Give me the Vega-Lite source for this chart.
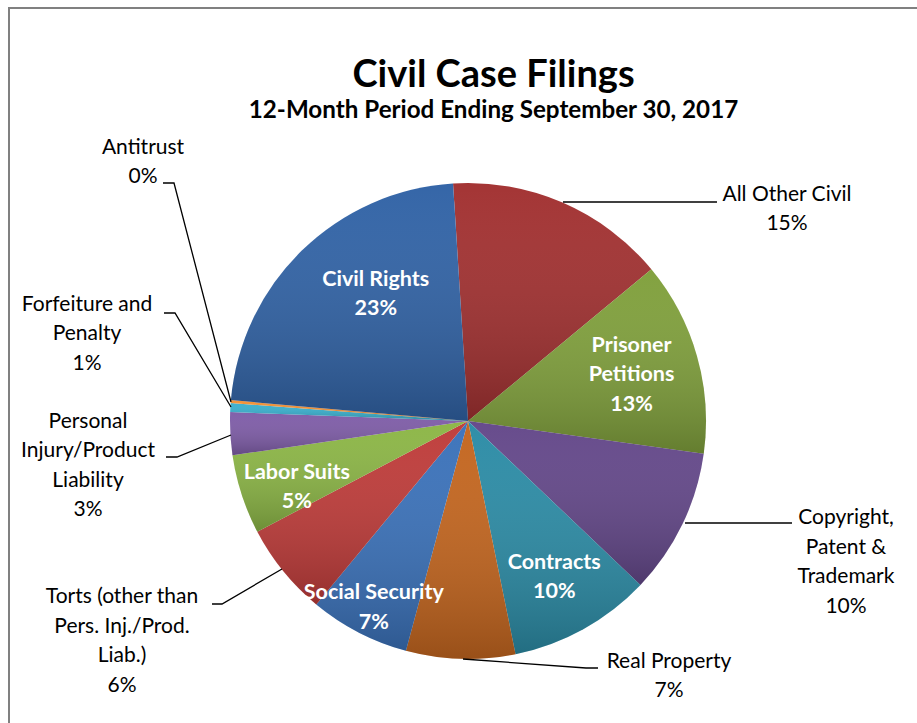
{
  "$schema": "https://vega.github.io/schema/vega-lite/v6.json",
  "width": 917,
  "height": 723,
  "autosize": "none",
  "padding": {"left": 9, "top": 8, "right": 0, "bottom": 0},
  "background": "white",
  "title": {
    "text": "Civil Case Filings",
    "subtitle": "12-Month Period Ending September 30, 2017",
    "anchor": "middle",
    "frame": "group",
    "orient": "top",
    "offset": -115,
    "dx": 26,
    "font": "Lato",
    "fontSize": 38,
    "fontWeight": "bold",
    "color": "#000000",
    "subtitleFont": "Lato",
    "subtitleFontSize": 24.2,
    "subtitleFontWeight": "bold",
    "subtitleColor": "#000000",
    "subtitlePadding": 4
  },
  "config": {
    "view": {"stroke": "#808080", "strokeWidth": 2},
    "font": "Lato"
  },
  "datasets": {
    "slices": [
      {"order": 1, "category": "All Other Civil", "share": 15.0, "inLabel": ""},
      {"order": 2, "category": "Prisoner Petitions", "share": 13.2, "inLabel": "Prisoner\nPetitions\n13%"},
      {"order": 3, "category": "Copyright, Patent & Trademark", "share": 9.9, "inLabel": ""},
      {"order": 4, "category": "Contracts", "share": 9.7, "inLabel": "Contracts\n10%"},
      {"order": 5, "category": "Real Property", "share": 7.4, "inLabel": ""},
      {"order": 6, "category": "Social Security", "share": 6.8, "inLabel": "Social Security\n7%"},
      {"order": 7, "category": "Torts (other than Pers. Inj./Prod. Liab.)", "share": 6.3, "inLabel": ""},
      {"order": 8, "category": "Labor Suits", "share": 5.4, "inLabel": "Labor Suits\n5%"},
      {"order": 9, "category": "Personal Injury/Product Liability", "share": 2.9, "inLabel": ""},
      {"order": 10, "category": "Forfeiture and Penalty", "share": 0.6, "inLabel": ""},
      {"order": 11, "category": "Antitrust", "share": 0.2, "inLabel": ""},
      {"order": 12, "category": "Civil Rights", "share": 22.6, "inLabel": "Civil Rights\n23%"}
    ],
    "callouts": [
      {"category": "Antitrust", "label": "Antitrust\n0%", "u": -1.3655, "v": 1.1471},
      {"category": "Forfeiture and Penalty", "label": "Forfeiture and\nPenalty\n1%", "u": -1.6008, "v": 0.4874},
      {"category": "Personal Injury/Product Liability", "label": "Personal\nInjury/Product\nLiability\n3%", "u": -1.5966, "v": -0.0042},
      {"category": "Torts (other than Pers. Inj./Prod. Liab.)", "label": "Torts (other than\nPers. Inj./Prod.\nLiab.)\n6%", "u": -1.4538, "v": -0.7395},
      {"category": "Real Property", "label": "Real Property\n7%", "u": 0.8445, "v": -1.0126},
      {"category": "Copyright, Patent & Trademark", "label": "Copyright,\nPatent &\nTrademark\n10%", "u": 1.5882, "v": -0.4076},
      {"category": "All Other Civil", "label": "All Other Civil\n15%", "u": 1.3403, "v": 0.9496}
    ],
    "leaders": [
      {"category": "Antitrust", "seq": 1, "u": -1.2815, "v": 1.0},
      {"category": "Antitrust", "seq": 2, "u": -1.2353, "v": 1.0},
      {"category": "Antitrust", "seq": 3, "u": -0.9958, "v": 0.0798},
      {"category": "Forfeiture and Penalty", "seq": 1, "u": -1.2773, "v": 0.4538},
      {"category": "Forfeiture and Penalty", "seq": 2, "u": -1.2311, "v": 0.4538},
      {"category": "Forfeiture and Penalty", "seq": 3, "u": -0.9958, "v": 0.0588},
      {"category": "Personal Injury/Product Liability", "seq": 1, "u": -1.2689, "v": -0.1513},
      {"category": "Personal Injury/Product Liability", "seq": 2, "u": -1.2227, "v": -0.1513},
      {"category": "Personal Injury/Product Liability", "seq": 3, "u": -0.9958, "v": -0.0588},
      {"category": "Torts (other than Pers. Inj./Prod. Liab.)", "seq": 1, "u": -1.0756, "v": -0.7689},
      {"category": "Torts (other than Pers. Inj./Prod. Liab.)", "seq": 2, "u": -1.0336, "v": -0.7689},
      {"category": "Torts (other than Pers. Inj./Prod. Liab.)", "seq": 3, "u": -0.7815, "v": -0.6218},
      {"category": "Real Property", "seq": 1, "u": -0.021, "v": -1.0},
      {"category": "Real Property", "seq": 2, "u": 0.4958, "v": -1.0378},
      {"category": "Real Property", "seq": 3, "u": 0.5462, "v": -1.0378},
      {"category": "Copyright, Patent & Trademark", "seq": 1, "u": 0.9118, "v": -0.4286},
      {"category": "Copyright, Patent & Trademark", "seq": 2, "u": 1.3613, "v": -0.4286},
      {"category": "All Other Civil", "seq": 1, "u": 0.3992, "v": 0.9202},
      {"category": "All Other Civil", "seq": 2, "u": 1.0462, "v": 0.9202}
    ]
  },
  "layer": [
    {
      "data": {"name": "slices"},
      "mark": {"type": "arc", "outerRadius": 238},
      "encoding": {
        "theta": {"field": "share", "type": "quantitative", "stack": true, "scale": {"range": [-0.06283, 6.22036]}},
        "order": {"field": "order", "type": "quantitative"},
        "color": {
          "field": "category", "type": "nominal", "legend": null,
          "scale": {
            "domain": ["All Other Civil", "Prisoner Petitions", "Copyright, Patent & Trademark", "Contracts", "Real Property", "Social Security", "Torts (other than Pers. Inj./Prod. Liab.)", "Labor Suits", "Personal Injury/Product Liability", "Forfeiture and Penalty", "Antitrust", "Civil Rights"],
            "range": ["#A23131", "#80A03C", "#64488A", "#2C8CA6", "#C4661F", "#3B72BA", "#BF3C3A", "#8CB646", "#7F5DA8", "#3AB0CE", "#F39033", "#3163A6"]
          }
        },
        "x": {"datum": 0, "type": "quantitative", "scale": {"domain": [-1.92857, 1.92437], "nice": false, "zero": false}, "axis": null},
        "y": {"datum": 0, "type": "quantitative", "scale": {"domain": [-1.30252, 1.73529], "nice": false, "zero": false}, "axis": null}
      }
    },
    {
      "data": {"name": "slices"},
      "mark": {
        "type": "arc", "outerRadius": 238,
        "fill": {"gradient": "linear", "x1": 0, "y1": 0, "x2": 0, "y2": 1, "stops": [{"offset": 0, "color": "rgba(255,255,255,0.02)"}, {"offset": 1, "color": "rgba(0,0,0,0.22)"}]}
      },
      "encoding": {
        "theta": {"field": "share", "type": "quantitative", "stack": true},
        "order": {"field": "order", "type": "quantitative"},
        "x": {"datum": 0, "type": "quantitative"},
        "y": {"datum": 0, "type": "quantitative"}
      }
    },
    {
      "data": {"name": "slices"},
      "mark": {"type": "text", "radius": 178, "dy": -14, "dx": 32, "color": "white", "fontWeight": "bold", "fontSize": 21.5, "lineHeight": 29.5, "lineBreak": "\n", "align": "center", "baseline": "middle"},
      "encoding": {
        "theta": {"field": "share", "type": "quantitative", "stack": true},
        "order": {"field": "order", "type": "quantitative"},
        "text": {"condition": {"test": "datum.category === 'Civil Rights'", "field": "inLabel"}, "value": ""},
        "x": {"datum": 0, "type": "quantitative"},
        "y": {"datum": 0, "type": "quantitative"}
      }
    },
    {
      "data": {"name": "slices"},
      "mark": {"type": "text", "radius": 178, "dy": -14, "color": "white", "fontWeight": "bold", "fontSize": 21.5, "lineHeight": 29.5, "lineBreak": "\n", "align": "center", "baseline": "middle"},
      "encoding": {
        "theta": {"field": "share", "type": "quantitative", "stack": true},
        "order": {"field": "order", "type": "quantitative"},
        "text": {"condition": {"test": "datum.category === 'Contracts'", "field": "inLabel"}, "value": ""},
        "x": {"datum": 0, "type": "quantitative"},
        "y": {"datum": 0, "type": "quantitative"}
      }
    },
    {
      "data": {"name": "slices"},
      "mark": {"type": "text", "radius": 180, "dy": -4, "color": "white", "fontWeight": "bold", "fontSize": 21.5, "lineHeight": 29.5, "lineBreak": "\n", "align": "center", "baseline": "middle"},
      "encoding": {
        "theta": {"field": "share", "type": "quantitative", "stack": true},
        "order": {"field": "order", "type": "quantitative"},
        "text": {"condition": {"test": "datum.category === 'Labor Suits'", "field": "inLabel"}, "value": ""},
        "x": {"datum": 0, "type": "quantitative"},
        "y": {"datum": 0, "type": "quantitative"}
      }
    },
    {
      "data": {"name": "slices"},
      "mark": {"type": "text", "radius": 205, "dy": -10, "color": "white", "fontWeight": "bold", "fontSize": 21.5, "lineHeight": 29.5, "lineBreak": "\n", "align": "center", "baseline": "middle"},
      "encoding": {
        "theta": {"field": "share", "type": "quantitative", "stack": true},
        "order": {"field": "order", "type": "quantitative"},
        "text": {"condition": {"test": "datum.category === 'Social Security'", "field": "inLabel"}, "value": ""},
        "x": {"datum": 0, "type": "quantitative"},
        "y": {"datum": 0, "type": "quantitative"}
      }
    },
    {
      "data": {"name": "slices"},
      "mark": {"type": "text", "radius": 170, "dy": -29, "color": "white", "fontWeight": "bold", "fontSize": 21.5, "lineHeight": 29.5, "lineBreak": "\n", "align": "center", "baseline": "middle"},
      "encoding": {
        "theta": {"field": "share", "type": "quantitative", "stack": true},
        "order": {"field": "order", "type": "quantitative"},
        "text": {"condition": {"test": "datum.category === 'Prisoner Petitions'", "field": "inLabel"}, "value": ""},
        "x": {"datum": 0, "type": "quantitative"},
        "y": {"datum": 0, "type": "quantitative"}
      }
    },
    {
      "data": {"name": "leaders"},
      "mark": {"type": "line", "color": "black", "strokeWidth": 1.3},
      "encoding": {
        "x": {"field": "u", "type": "quantitative"},
        "y": {"field": "v", "type": "quantitative"},
        "detail": {"field": "category"},
        "order": {"field": "seq", "type": "quantitative"}
      }
    },
    {
      "data": {"name": "callouts"},
      "mark": {"type": "text", "color": "black", "fontSize": 21, "lineHeight": 29.5, "lineBreak": "\n", "align": "center", "baseline": "middle"},
      "encoding": {
        "x": {"field": "u", "type": "quantitative"},
        "y": {"field": "v", "type": "quantitative"},
        "text": {"field": "label"}
      }
    }
  ]
}
